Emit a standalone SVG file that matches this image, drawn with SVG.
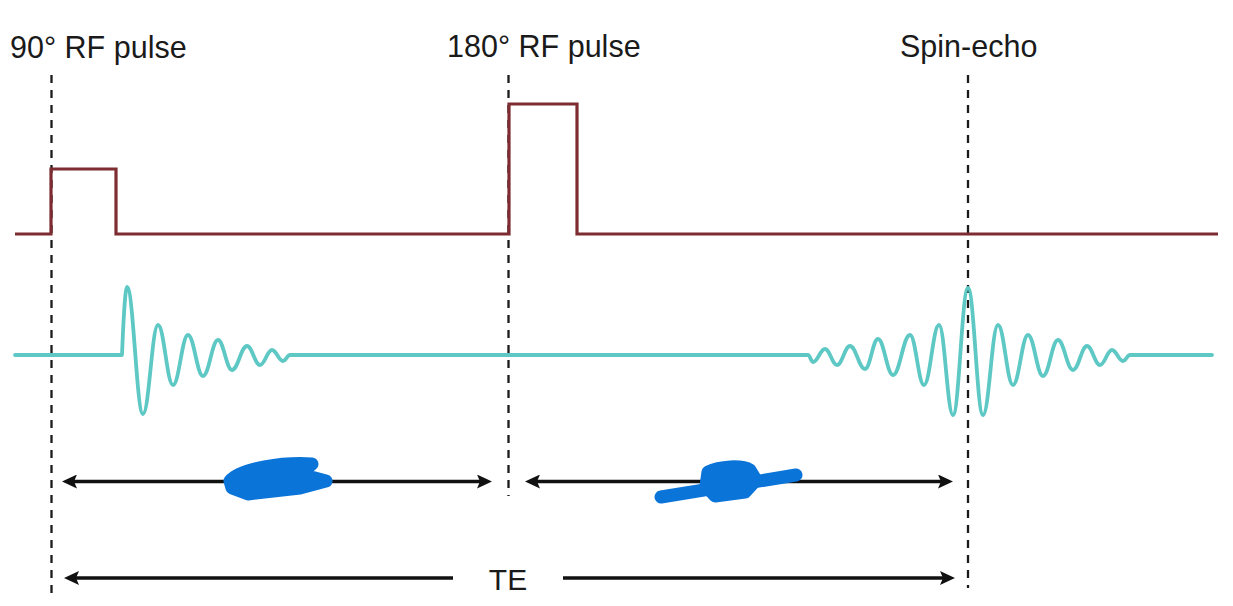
<svg xmlns="http://www.w3.org/2000/svg" width="1233" height="606" viewBox="0 0 1233 606">
  <style>
    .lbl { font-family: "Liberation Sans", Arial, sans-serif; font-size: 30.5px; fill: #1a1a1a; }
    .te { font-family: "Liberation Sans", Arial, sans-serif; font-size: 30px; fill: #1a1a1a; }
    .guide { stroke: #1a1a1a; stroke-width: 2.3; stroke-dasharray: 8 7; fill: none; }
    .rf { stroke: #7d2c31; stroke-width: 3.2; fill: none; stroke-linejoin: miter; }
    .sig { stroke: #5ec8c5; stroke-width: 3.8; fill: none; stroke-linejoin: round; stroke-linecap: round; }
    .dim { stroke: #111; stroke-width: 3.5; fill: none; }
    .blot { stroke: #0a74d8; stroke-width: 13; fill: #0a74d8; stroke-linecap: round; stroke-linejoin: round; }
  </style>
  <defs>
    <marker id="ah" viewBox="0 0 15 14" refX="5" refY="7" markerWidth="15" markerHeight="14" markerUnits="userSpaceOnUse" orient="auto-start-reverse">
      <path d="M0,0 L15,7 L0,14 L3,7 Z" fill="#111"/>
    </marker>
  </defs>
  <rect width="1233" height="606" fill="#ffffff"/>

  <g id="label-90">
    <text class="lbl" x="10" y="58">90° RF pulse</text>
  </g>
  <g id="label-180">
    <text class="lbl" x="447" y="57">180° RF pulse</text>
  </g>
  <g id="label-echo">
    <text class="lbl" x="900" y="57">Spin-echo</text>
  </g>

  <g id="guides">
    <line class="guide" x1="51.5" y1="75" x2="51.5" y2="597"/>
    <line class="guide" x1="508.5" y1="75" x2="508.5" y2="496"/>
    <line class="guide" x1="968" y1="75" x2="968" y2="588"/>
  </g>

  <g id="rf-trace">
    <path class="rf" d="M15,234 L51,234 L51,169 L116,169 L116,234 L509,234 L509,104 L577,104 L577,234 L1218,234"/>
  </g>

  <g id="signal-trace">
    <path class="sig" d="M15,355 L122,355 C123,330 125,287 127,287 C133.4,287 136.6,414 143,414 C149,414 152,325 158,325 C164,325 167,385 173,385 C179,385 182,335 188,335 C194,335 197,376 203,376 C209,376 212,340 218,340 C223.6,340 226.4,370 232,370 C238,370 241,346 247,346 C252.2,346 254.8,365 260,365 C264.8,365 267.2,350 272,350 C276.4,350 278.6,361 283,361 C286,361 287,355 290,355 L808,355 C810,355 811,362 813,362 C817.8,362 820.2,349 825,349 C829.8,349 832.2,365 837,365 C842.2,365 844.8,346 850,346 C856,346 859,369 865,369 C870.2,369 872.8,339 878,339 C884,339 887,375 893,375 C899.8,375 903.2,335 910,335 C915.6,335 918.4,385 924,385 C930,385 933,325 939,325 C944.6,325 947.4,415 953,415 C959,415 962,288 968,288 C974,288 977,415 983,415 C989,415 992,325 998,325 C1004,325 1007,385 1013,385 C1019,385 1022,335 1028,335 C1034,335 1037,376 1043,376 C1049,376 1052,340 1058,340 C1064,340 1067,370 1073,370 C1078.6,370 1081.4,346 1087,346 C1092.2,346 1094.8,365 1100,365 C1104.8,365 1107.2,350 1112,350 C1116.4,350 1118.6,361 1123,361 C1126,361 1127,355 1130,355 L1212,355"/>
  </g>

  <g id="connectors">
    <line class="dim" x1="72" y1="481.5" x2="482" y2="481.5" marker-start="url(#ah)" marker-end="url(#ah)"/>
    <line class="dim" x1="535" y1="481.5" x2="943" y2="481.5" marker-start="url(#ah)" marker-end="url(#ah)"/>
    <line class="dim" x1="74" y1="578" x2="453" y2="578" marker-start="url(#ah)"/>
    <line class="dim" x1="563" y1="578" x2="945" y2="578" marker-end="url(#ah)"/>
  </g>

  <g id="label-te">
    <text class="te" x="508" y="590" text-anchor="middle">TE</text>
  </g>

  <g id="redaction-1">
    <path class="blot" d="M230,481 C240,468 285,462 312,464 L300,474 L326,481 L300,488 L248,494 L232,488 Z"/>
  </g>
  <g id="redaction-2">
    <path class="blot" d="M661,497 L796,475" fill="none"/>
    <path class="blot" d="M708,472 C720,466 742,465 750,470 L756,480 L745,492 L715,496 L706,486 Z"/>
  </g>
</svg>
